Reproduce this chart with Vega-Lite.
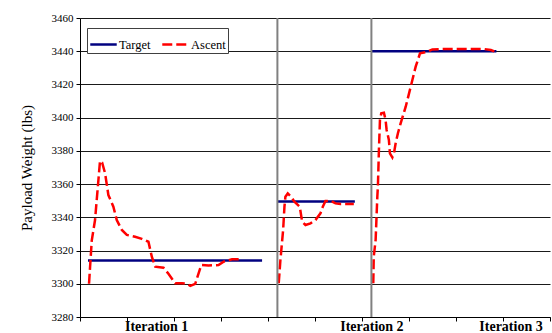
{
  "$schema": "https://vega.github.io/schema/vega-lite/v6.json",
  "width": 470,
  "height": 299,
  "autosize": "none",
  "padding": {"left": 80, "top": 18, "right": 2, "bottom": 16},
  "background": "white",
  "config": {
    "view": {"stroke": null},
    "font": "Liberation Serif",
    "legend": {"labelFont": "Liberation Serif"}
  },
  "layer": [
    {
      "data": {"values": [
        {"series": "Target", "seg": "T1", "x": 8.5, "y": 3314},
        {"series": "Target", "seg": "T1", "x": 193.7, "y": 3314},
        {"series": "Target", "seg": "T2", "x": 210, "y": 3349.5},
        {"series": "Target", "seg": "T2", "x": 292.4, "y": 3349.5},
        {"series": "Target", "seg": "T3", "x": 310, "y": 3440},
        {"series": "Target", "seg": "T3", "x": 443, "y": 3440},
        {"series": "Ascent", "seg": "A1", "x": 9.6, "y": 3300},
        {"series": "Ascent", "seg": "A1", "x": 10.7, "y": 3310},
        {"series": "Ascent", "seg": "A1", "x": 12.5, "y": 3326},
        {"series": "Ascent", "seg": "A1", "x": 16, "y": 3338.4},
        {"series": "Ascent", "seg": "A1", "x": 21.3, "y": 3374},
        {"series": "Ascent", "seg": "A1", "x": 23.5, "y": 3373},
        {"series": "Ascent", "seg": "A1", "x": 26.7, "y": 3366.5},
        {"series": "Ascent", "seg": "A1", "x": 30.2, "y": 3353.4},
        {"series": "Ascent", "seg": "A1", "x": 35.5, "y": 3346.4},
        {"series": "Ascent", "seg": "A1", "x": 39.1, "y": 3338.4},
        {"series": "Ascent", "seg": "A1", "x": 44.5, "y": 3332.4},
        {"series": "Ascent", "seg": "A1", "x": 49.8, "y": 3329.4},
        {"series": "Ascent", "seg": "A1", "x": 58.6, "y": 3328.3},
        {"series": "Ascent", "seg": "A1", "x": 65.8, "y": 3327},
        {"series": "Ascent", "seg": "A1", "x": 72.8, "y": 3325.3},
        {"series": "Ascent", "seg": "A1", "x": 76.4, "y": 3316.3},
        {"series": "Ascent", "seg": "A1", "x": 80, "y": 3310.3},
        {"series": "Ascent", "seg": "A1", "x": 88.8, "y": 3309.7},
        {"series": "Ascent", "seg": "A1", "x": 94.1, "y": 3306},
        {"series": "Ascent", "seg": "A1", "x": 101.3, "y": 3300.3},
        {"series": "Ascent", "seg": "A1", "x": 108.4, "y": 3300.3},
        {"series": "Ascent", "seg": "A1", "x": 113.7, "y": 3300},
        {"series": "Ascent", "seg": "A1", "x": 117.3, "y": 3298.7},
        {"series": "Ascent", "seg": "A1", "x": 122.6, "y": 3300},
        {"series": "Ascent", "seg": "A1", "x": 129, "y": 3311.3},
        {"series": "Ascent", "seg": "A1", "x": 136.8, "y": 3311},
        {"series": "Ascent", "seg": "A1", "x": 147.4, "y": 3311.3},
        {"series": "Ascent", "seg": "A1", "x": 152.8, "y": 3313.3},
        {"series": "Ascent", "seg": "A1", "x": 161.7, "y": 3314.7},
        {"series": "Ascent", "seg": "A1", "x": 172.4, "y": 3314.7},
        {"series": "Ascent", "seg": "A2", "x": 211.4, "y": 3300.3},
        {"series": "Ascent", "seg": "A2", "x": 213.2, "y": 3314.3},
        {"series": "Ascent", "seg": "A2", "x": 216.1, "y": 3332.4},
        {"series": "Ascent", "seg": "A2", "x": 217.5, "y": 3346.4},
        {"series": "Ascent", "seg": "A2", "x": 218.5, "y": 3352.4},
        {"series": "Ascent", "seg": "A2", "x": 221, "y": 3354.4},
        {"series": "Ascent", "seg": "A2", "x": 224.6, "y": 3352.4},
        {"series": "Ascent", "seg": "A2", "x": 228.1, "y": 3349.4},
        {"series": "Ascent", "seg": "A2", "x": 233.8, "y": 3346.4},
        {"series": "Ascent", "seg": "A2", "x": 236.3, "y": 3337.4},
        {"series": "Ascent", "seg": "A2", "x": 239.9, "y": 3335.4},
        {"series": "Ascent", "seg": "A2", "x": 245.2, "y": 3336.4},
        {"series": "Ascent", "seg": "A2", "x": 250.5, "y": 3338.4},
        {"series": "Ascent", "seg": "A2", "x": 255.8, "y": 3342.4},
        {"series": "Ascent", "seg": "A2", "x": 258.3, "y": 3346.4},
        {"series": "Ascent", "seg": "A2", "x": 261.2, "y": 3349.8},
        {"series": "Ascent", "seg": "A2", "x": 266.5, "y": 3350},
        {"series": "Ascent", "seg": "A2", "x": 271.8, "y": 3348.4},
        {"series": "Ascent", "seg": "A2", "x": 277.2, "y": 3348},
        {"series": "Ascent", "seg": "A2", "x": 291.3, "y": 3348},
        {"series": "Ascent", "seg": "A3", "x": 312, "y": 3300.3},
        {"series": "Ascent", "seg": "A3", "x": 312.5, "y": 3316.3},
        {"series": "Ascent", "seg": "A3", "x": 314.5, "y": 3326.4},
        {"series": "Ascent", "seg": "A3", "x": 316.3, "y": 3352.4},
        {"series": "Ascent", "seg": "A3", "x": 316.9, "y": 3358.4},
        {"series": "Ascent", "seg": "A3", "x": 318, "y": 3380.5},
        {"series": "Ascent", "seg": "A3", "x": 319.1, "y": 3398.6},
        {"series": "Ascent", "seg": "A3", "x": 320.5, "y": 3402.6},
        {"series": "Ascent", "seg": "A3", "x": 323.3, "y": 3403},
        {"series": "Ascent", "seg": "A3", "x": 325.1, "y": 3398.6},
        {"series": "Ascent", "seg": "A3", "x": 326.2, "y": 3392.6},
        {"series": "Ascent", "seg": "A3", "x": 328.6, "y": 3386.6},
        {"series": "Ascent", "seg": "A3", "x": 329.7, "y": 3378.5},
        {"series": "Ascent", "seg": "A3", "x": 332.3, "y": 3376.1},
        {"series": "Ascent", "seg": "A3", "x": 334, "y": 3378.5},
        {"series": "Ascent", "seg": "A3", "x": 335.8, "y": 3384.6},
        {"series": "Ascent", "seg": "A3", "x": 338.2, "y": 3390.6},
        {"series": "Ascent", "seg": "A3", "x": 341.1, "y": 3396.6},
        {"series": "Ascent", "seg": "A3", "x": 346.5, "y": 3406.6},
        {"series": "Ascent", "seg": "A3", "x": 351.8, "y": 3418.6},
        {"series": "Ascent", "seg": "A3", "x": 357.1, "y": 3430.7},
        {"series": "Ascent", "seg": "A3", "x": 361.7, "y": 3438.7},
        {"series": "Ascent", "seg": "A3", "x": 369.6, "y": 3439.7},
        {"series": "Ascent", "seg": "A3", "x": 374.9, "y": 3441.1},
        {"series": "Ascent", "seg": "A3", "x": 387.3, "y": 3441.3},
        {"series": "Ascent", "seg": "A3", "x": 405.1, "y": 3441.3},
        {"series": "Ascent", "seg": "A3", "x": 430, "y": 3441.3},
        {"series": "Ascent", "seg": "A3", "x": 437.1, "y": 3440.7},
        {"series": "Ascent", "seg": "A3", "x": 443.5, "y": 3439.3}
      ]},
      "mark": {"type": "line", "strokeWidth": 2.5, "clip": true},
      "encoding": {
        "x": {"field": "x", "type": "quantitative", "scale": {"domain": [0, 500], "nice": false, "zero": false},
          "axis": {"orient": "bottom", "title": null, "values": [0, 50, 100, 150, 200, 250, 300, 350, 400, 450, 500], "labels": false, "grid": false, "tickSize": 4, "tickColor": "black", "domainColor": "black", "tickWidth": 1}},
        "y": {"field": "y", "type": "quantitative", "scale": {"domain": [3280, 3460], "nice": false, "zero": false},
          "axis": {"title": "Payload Weight  (lbs)", "format": "d", "labelFont": "Liberation Serif", "titleFont": "Liberation Serif", "labelColor": "black", "titleColor": "black", "titleFontSize": 15, "titleFontWeight": "normal", "titlePadding": 17, "values": [3280, 3300, 3320, 3340, 3360, 3380, 3400, 3420, 3440, 3460], "grid": true, "gridColor": "#1a1a1a", "gridWidth": 1, "gridOpacity": 1, "labelFontSize": 11, "tickSize": 4, "tickColor": "black", "domainColor": "black", "labelPadding": 3}},
        "color": {"field": "series", "type": "nominal", "scale": {"domain": ["Target", "Ascent"], "range": ["#000080", "#FF0000"]},
          "legend": {"title": null, "orient": "none", "legendX": 7, "legendY": 10, "direction": "horizontal", "fillColor": "white", "strokeColor": "#404040", "padding": 2, "symbolType": "stroke", "symbolSize": 700, "symbolStrokeWidth": 2.5, "labelOffset": 1, "columnPadding": 6, "labelFontSize": 12.5, "labelFont": "Liberation Serif", "labelColor": "black"}},
        "strokeDash": {"field": "series", "type": "nominal", "scale": {"domain": ["Target", "Ascent"], "range": [[1, 0], [10, 4]]}, "legend": {"title": null}},
        "detail": {"field": "seg"}
      }
    },
    {
      "data": {"values": [{"x": 210}, {"x": 310}]},
      "mark": {"type": "rule", "color": "#808080", "strokeWidth": 2},
      "encoding": {
        "x": {"field": "x", "type": "quantitative",
          "axis": {"orient": "bottom", "title": null, "values": [81, 310, 458], "labelExpr": "datum.value == 81 ? 'Iteration 1' : datum.value == 310 ? 'Iteration 2' : 'Iteration 3'", "ticks": false, "domain": false, "grid": false, "labelFont": "Liberation Serif", "labelFontSize": 14, "labelFontWeight": "bold", "labelPadding": 2, "labelColor": "black"}}
      }
    }
  ],
  "resolve": {"axis": {"x": "independent"}}
}
